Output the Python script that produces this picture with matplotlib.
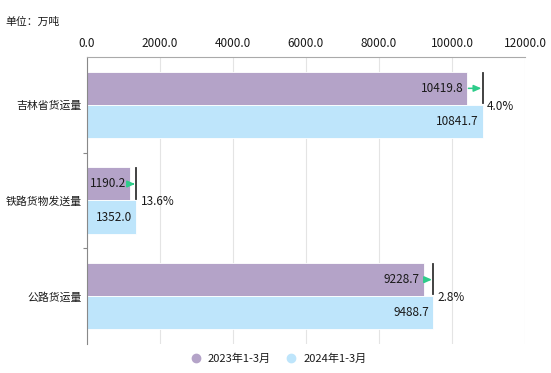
import numpy as np
import matplotlib
matplotlib.use('Agg')
import matplotlib.pyplot as plt
from matplotlib.lines import Line2D

plt.rcParams['font.family'] = ['Noto Sans CJK SC', 'DejaVu Sans']

categories = ['吉林省货运量', '铁路货物发送量', '公路货运量']
v2023 = [10419.8, 1190.2, 9228.7]
v2024 = [10841.7, 1352.0, 9488.7]
growth = ['4.0%', '13.6%', '2.8%']
series_names = ['2023年1-3月', '2024年1-3月']
xticks = [0, 2000, 4000, 6000, 8000, 10000, 12000]

c_purple = '#b4a3c8'
c_blue = '#bee5fb'
c_green = '#2ecc8a'
c_text = '#1a1a1a'

fig = plt.figure(figsize=(5.51, 3.73), dpi=100)
ax = fig.add_axes([87 / 551, 1 - 344 / 373, (525 - 87) / 551, (344 - 57) / 373])

y = np.arange(len(categories))
h = 0.345
ax.barh(y - h / 2, v2023, height=h, color=c_purple, edgecolor='white', linewidth=0.6, zorder=2)
ax.barh(y + h / 2, v2024, height=h, color=c_blue, edgecolor='white', linewidth=0.6, zorder=2)

for i in range(len(categories)):
    ax.annotate(f'{v2023[i]:.1f}', (v2023[i], y[i] - h / 2), xytext=(-3, 0), textcoords='offset points',
                ha='right', va='center', fontsize=8.5, color=c_text, zorder=4)
    ax.annotate(f'{v2024[i]:.1f}', (v2024[i], y[i] + h / 2), xytext=(-3, 0), textcoords='offset points',
                ha='right', va='center', fontsize=8.5, color=c_text, zorder=4)
    # 增长标记：竖线位于2024值，箭头从2023柱末端指向竖线
    ax.plot([v2024[i], v2024[i]], [y[i] - h + 0.01, y[i] - 0.02], color='#333333', lw=1.3, zorder=5)
    ax.annotate('', xy=(v2024[i], y[i] - h / 2), xytext=(v2023[i] + 30, y[i] - h / 2),
                arrowprops=dict(arrowstyle='-|>,head_length=0.45,head_width=0.2', color=c_green, lw=1.1,
                                shrinkA=0, shrinkB=1), zorder=5)
    ax.annotate(growth[i], (v2024[i], y[i]), xytext=(3, -1), textcoords='offset points',
                ha='left', va='center', fontsize=8.5, color=c_text, zorder=5)

ax.set_xlim(0, 12000)
ax.set_ylim(len(categories) - 0.5, -0.5)
ax.xaxis.tick_top()
ax.set_xticks(xticks)
ax.set_xticklabels([f'{t:.1f}' for t in xticks], fontsize=8.5, color=c_text)
ax.tick_params(axis='x', length=0, pad=5)
ax.grid(axis='x', color='#e4e4e4', lw=0.8, zorder=0)

ax.set_yticks(y)
ax.set_yticklabels(categories, fontsize=7.8, color=c_text, fontweight='medium')
ax.set_yticks(np.arange(1, len(categories)) - 0.5, minor=True)
ax.tick_params(axis='y', which='major', length=0, pad=4)
ax.tick_params(axis='y', which='minor', length=3, color='#888888', width=0.8)

for s in ['right', 'bottom']:
    ax.spines[s].set_visible(False)
ax.spines['top'].set_color('#aaaaaa')
ax.spines['left'].set_color('#888888')
ax.spines['top'].set_linewidth(0.8)
ax.spines['left'].set_linewidth(0.8)

fig.text(5 / 551, 1 - 22 / 373, '单位：万吨', fontsize=7.8, color=c_text, va='center', ha='left',
         fontweight='medium')

handles = [Line2D([], [], marker='o', ls='', color=c_purple, markersize=6),
           Line2D([], [], marker='o', ls='', color=c_blue, markersize=6)]
fig.legend(handles, series_names, loc='center', bbox_to_anchor=(0.5, 1 - 359 / 373), ncol=2,
           frameon=False, fontsize=8, handletextpad=0.1, columnspacing=0.8, labelcolor=c_text)

fig.savefig('out.png', dpi=100)
